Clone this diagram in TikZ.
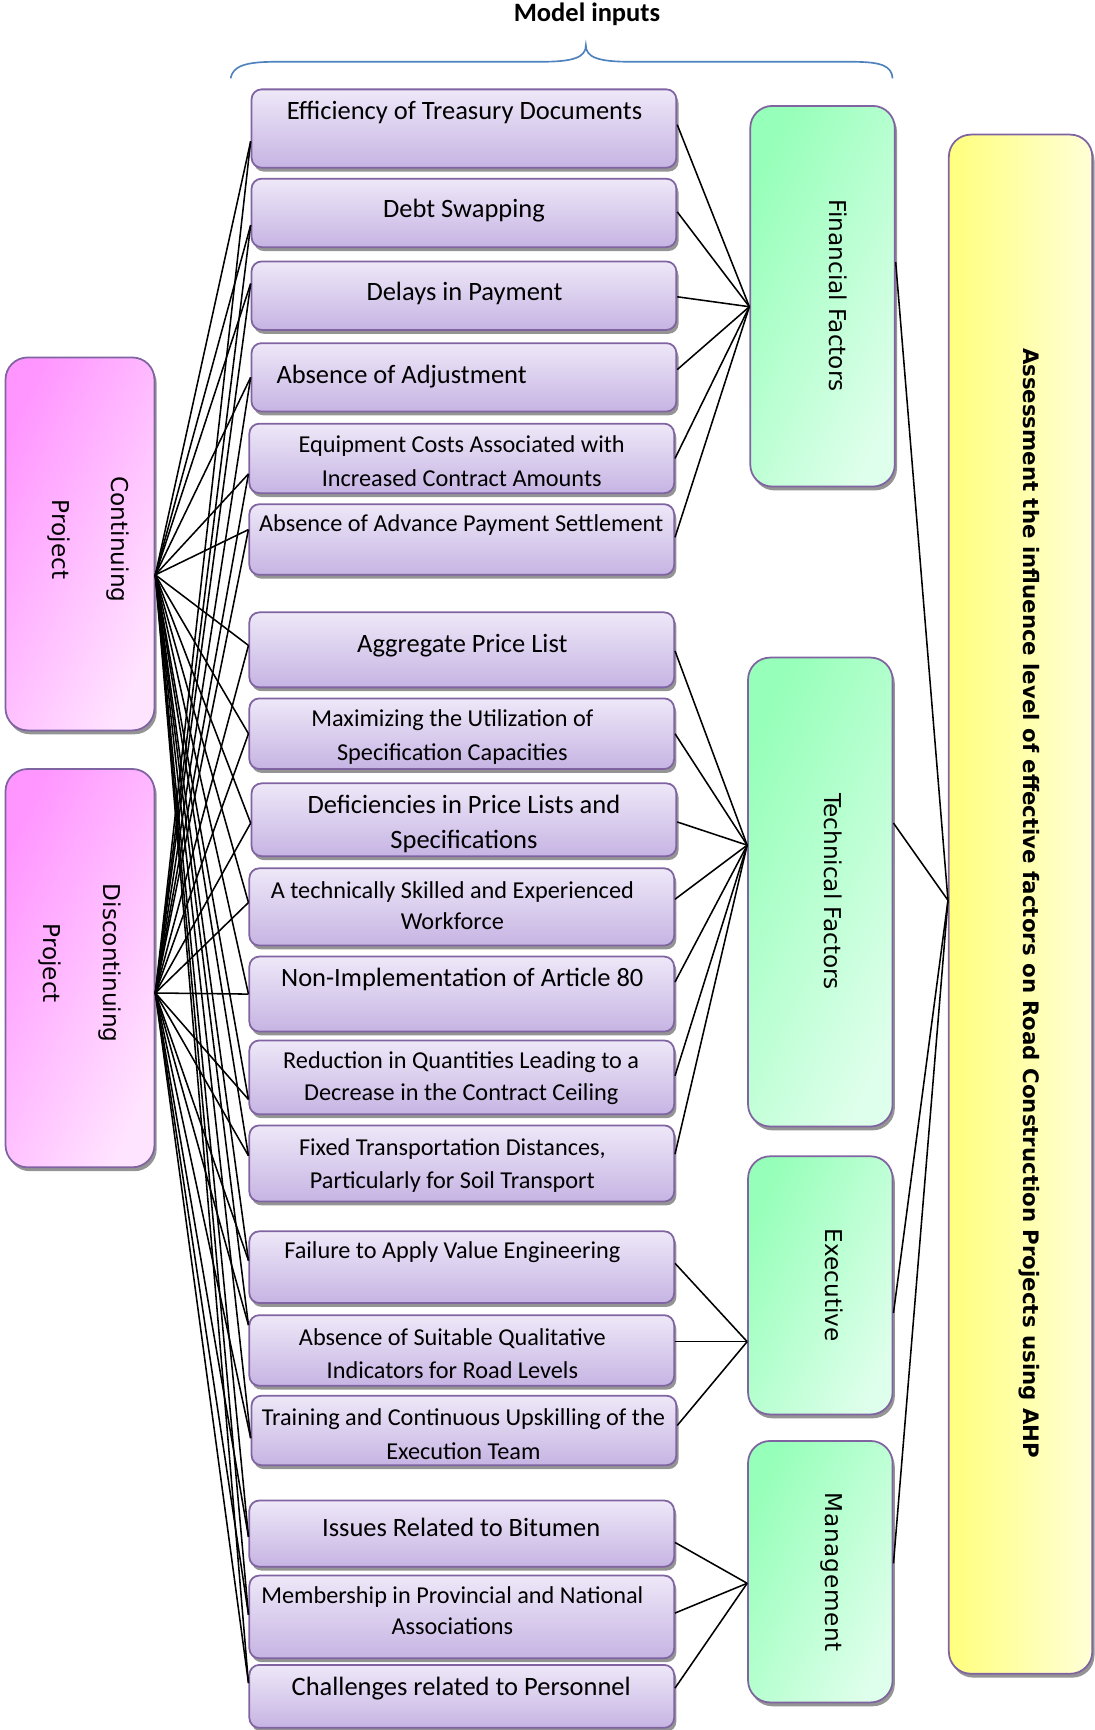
\documentclass[tikz,border=0pt]{standalone}
\usepackage{fontspec}
\setmainfont{Carlito}
\newfontfamily\dejavu{DejaVu Sans}
\usetikzlibrary{shadows,fit,calc}
\definecolor{boxline}{RGB}{128,100,162}
\definecolor{inTop}{RGB}{238,232,248}
\definecolor{inBot}{RGB}{198,180,227}
\definecolor{grA}{RGB}{150,255,185}
\definecolor{grB}{RGB}{222,255,235}
\definecolor{pkA}{RGB}{255,150,255}
\definecolor{pkB}{RGB}{255,228,255}
\definecolor{ylA}{RGB}{255,255,125}
\definecolor{ylB}{RGB}{255,255,215}
\definecolor{braceblue}{RGB}{79,129,189}
\tikzset{
  shad/.style={drop shadow={shadow xshift=2pt, shadow yshift=-3.5pt, fill=black!42, opacity=1}},
  inbox/.style={draw=boxline, line width=1.6pt, rounded corners=9pt, inner sep=0pt,
    top color=inTop, bottom color=inBot, shad},
  catbox/.style={draw=boxline, line width=1.6pt, rounded corners=20pt, inner sep=0pt,
    left color=grA, right color=grB, shading angle=65, shad},
  projbox/.style={draw=boxline, line width=1.6pt, rounded corners=20pt, inner sep=0pt,
    left color=pkA, right color=pkB, shading angle=65, shad},
  goalbox/.style={draw=boxline, line width=1.6pt, rounded corners=20pt, inner sep=0pt,
    left color=ylA, right color=ylB, shad},
  tL/.style={font={\fontsize{24}{#1}\selectfont}, align=center, inner sep=0pt},
  tL/.default=32,
  tS/.style={font={\fontsize{22}{#1}\selectfont}, align=center, inner sep=0pt},
  tS/.default=30,
  rotxt/.style={rotate=-90, font={\dejavu\fontsize{21}{#1}\selectfont}, align=center, inner sep=0pt},
  rotxt/.default=54,
  conn/.style={draw=black, line width=1.4pt},
}
\begin{document}
\begin{tikzpicture}[x=1pt,y=-1pt]
\useasboundingbox (0,0) rectangle (992,1568);
% title and brace
\node[font={\bfseries\fontsize{24}{28}\selectfont}, inner sep=0pt] (title) at (532,13) {Model inputs};
\draw[braceblue, line width=1.5pt] (209,71) .. controls (211,60) and (222,56) .. (250,56) -- (490,56)
  .. controls (520,56) and (531,52) .. (531,41)
  .. controls (531,52) and (542,56) .. (572,56) -- (772,56)
  .. controls (800,56) and (808,60) .. (809,71);
% input boxes
\node[inbox, fit={(228,81) (613,152)}] (b1) {};
\node[inbox, fit={(228,162) (613,224)}] (b2) {};
\node[inbox, fit={(228,237) (613,299)}] (b3) {};
\node[inbox, fit={(228,311) (613,373)}] (b4) {};
\node[inbox, fit={(226,384) (611,447)}] (b5) {};
\node[inbox, fit={(226,457) (611,521)}] (b6) {};
\node[inbox, fit={(226,555) (611,623)}] (b7) {};
\node[inbox, fit={(226,633) (611,697)}] (b8) {};
\node[inbox, fit={(228,710) (613,776)}] (b9) {};
\node[inbox, fit={(226,787) (611,857)}] (b10) {};
\node[inbox, fit={(226,867) (611,935)}] (b11) {};
\node[inbox, fit={(226,943) (611,1010)}] (b12) {};
\node[inbox, fit={(226,1020) (611,1089)}] (b13) {};
\node[inbox, fit={(226,1116) (611,1181)}] (b14) {};
\node[inbox, fit={(226,1192) (611,1256)}] (b15) {};
\node[inbox, fit={(228,1265) (613,1328)}] (b16) {};
\node[inbox, fit={(226,1360) (611,1420)}] (b17) {};
\node[inbox, fit={(226,1428) (611,1503)}] (b18) {};
\node[inbox, fit={(226,1509) (611,1566)}] (b19) {};
% texts
\node[tL] (t1) at (421,102) {Efficiency of Treasury Documents};
\node[tL] (t2) at (420.5,191) {Debt Swapping};
\node[tL] (t3) at (421,266) {Delays in Payment};
\node[tL] (t4) at (364,341) {Absence of Adjustment};
\node[tS=31] (t5) at (418.5,418) {Equipment Costs Associated with\\Increased Contract Amounts};
\node[tS] (t6) at (418,476) {Absence of Advance Payment Settlement};
\node[tL] (t7) at (419,585) {Aggregate Price List};
\node[tS] (t8) at (410,668) {Maximizing the Utilization of\\Specification Capacities};
\node[tL=32] (t9) at (420.5,747) {Deficiencies in Price Lists and\\Specifications};
\node[tS=28] (t10) at (410,821) {A technically Skilled and Experienced\\Workforce};
\node[tL] (t11) at (419,888) {Non-Implementation of Article 80};
\node[tS=29] (t12) at (418,977.5) {Reduction in Quantities Leading to a\\Decrease in the Contract Ceiling};
\node[tS] (t13) at (410,1056) {Fixed Transportation Distances,\\Particularly for Soil Transport};
\node[tS] (t14) at (410,1135) {Failure to Apply Value Engineering};
\node[tS] (t15) at (410,1227) {Absence of Suitable Qualitative\\Indicators for Road Levels};
\node[tS=31] (t16) at (420,1299.5) {Training and Continuous Upskilling of the\\Execution Team};
\node[tL] (t17) at (418,1384) {Issues Related to Bitumen};
\node[tS=28] (t18) at (410,1460) {Membership in Provincial and National\\Associations};
\node[tL] (t19) at (418,1530) {Challenges related to Personnel};
% project boxes
\node[projbox, fit={(5,324) (140,662)}] (cont) {};
\node[rotxt=53] (tcont) at (80,489) {Continuing\\Project};
\node[projbox, fit={(5,697) (140,1058)}] (disc) {};
\node[rotxt=55] (tdisc) at (72.5,873) {Discontinuing\\Project};
% category boxes
\node[catbox, fit={(680,96) (811,441)}] (fin) {};
\node[rotxt] (tfin) at (760,268) {Financial Factors};
\node[catbox, fit={(678,596) (809,1021)}] (tec) {};
\node[rotxt] (ttec) at (755,808) {Technical Factors};
\node[catbox, fit={(678,1048) (809,1282)}] (exe) {};
\node[rotxt] (texe) at (756,1165) {Executive};
\node[catbox, fit={(678,1306) (809,1543)}] (man) {};
\node[rotxt, font={\dejavu\fontsize{21}{26}\selectfont\addfontfeature{LetterSpace=3}}] (tman) at (754,1425) {Management};
% goal box
\node[goalbox, fit={(860,122) (990,1517)}] (ahp) {};
\node[rotate=-90, font={\dejavu\bfseries\fontsize{19.3}{24}\selectfont}, inner sep=0pt] (tahp) at (933,818.5)
  {Assessment the influence level of effective factors on Road Construction Projects using AHP};
% connection points
\coordinate (cF) at ($(cont.east)+(0,28)$);
\coordinate (dF) at ($(disc.east)+(0,22.5)$);
\coordinate (finIn) at ($(fin.west)+(0,9.5)$);
\coordinate (tecIn) at ($(tec.west)+(0,-42.5)$);
\coordinate (exeIn) at ($(exe.west)+(0,51)$);
\coordinate (manIn) at ($(man.west)+(0,10.5)$);
\coordinate (finOut) at ($(fin.east)+(0,-31)$);
\coordinate (tecOut) at ($(tec.east)+(0,-62.5)$);
\coordinate (exeOut) at ($(exe.east)+(0,25)$);
\coordinate (manOut) at ($(man.east)+(0,-7.5)$);
\coordinate (ahpIn) at ($(ahp.west)+(0,-3.5)$);
% connectors
\foreach \i/\l/\r/\g in {1/11.5/-3.5/fin, 2/11/-1/fin, 3/-11/1/fin, 4/0/-7/fin, 5/14/0/fin, 6/-9/-2/fin,
  7/-4/1/tec, 8/0/0/tec, 9/3/2/tec, 10/-4/-7/tec, 11/0/-11/tec, 12/20/-1.5/tec, 13/-7/-8.5/tec,
  14/-6/-3.5/exe, 15/-23/-8/exe, 16/7/-4.5/exe, 17/3/8/man, 18/-2/-3.5/man, 19/-12/-7.5/man}{
  \coordinate (L\i) at ($(b\i.west)+(0,\l)$);
  \coordinate (R\i) at ($(b\i.east)+(0,\r)$);
  \draw[conn] (cF) -- (L\i);
  \draw[conn] (dF) -- (L\i);
  \draw[conn] (R\i) -- (\g In);
}
\foreach \g in {fin,tec,exe,man}{
  \draw[conn] (\g Out) -- (ahpIn);
}
\end{tikzpicture}
\end{document}
